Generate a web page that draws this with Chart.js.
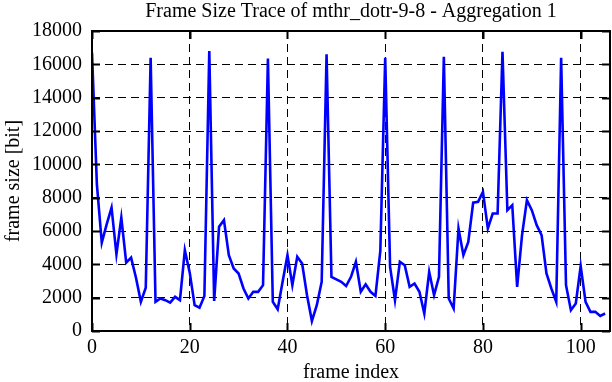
<!DOCTYPE html>
<html>
<head>
<meta charset="utf-8">
<title>Frame Size Trace</title>
<script src="https://cdn.jsdelivr.net/npm/chart.js@4.4.1/dist/chart.umd.min.js"></script>
<style>
  html, body { margin: 0; padding: 0; background: #fff; }
  #wrap { width: 612px; height: 382px; }
</style>
</head>
<body>
<div id="wrap"><canvas id="traceChart"></canvas></div>
<script>
// frame sizes in bit, one per frame index (0..105)
var frameSize = [
  16700, 8800, 5300, 6400, 7400, 4600, 6800, 4100, 4400, 3200,
  1750, 2600, 16400, 1750, 1950, 1850, 1700, 2050, 1850, 4850,
  3500, 1550, 1400, 2100, 16800, 1800, 6250, 6650, 4550, 3750,
  3450, 2550, 1950, 2350, 2350, 2750, 16350, 1750, 1300, 2950,
  4550, 2750, 4450, 4050, 2150, 600, 1550, 2950, 16600, 3250,
  3100, 2950, 2700, 3250, 4150, 2350, 2800, 2350, 2100, 4800,
  16400, 3850, 1850, 4150, 3950, 2650, 2850, 2350, 1050, 3550,
  2150, 3250, 16450, 1950, 1350, 6150, 4550, 5350, 7700, 7750,
  8350, 6150, 7050, 7050, 16750, 7250, 7550, 2650, 5750, 7850,
  7250, 6350, 5750, 3450, 2550, 1750, 16400, 2750, 1250, 1650,
  3900, 1750, 1150, 1150, 900, 1050
];
var xTicks = [0, 20, 40, 60, 80, 100];
var yTicks = [0, 2000, 4000, 6000, 8000, 10000, 12000, 14000, 16000, 18000];
var xMax = 106;
var yMax = 18000;

var fontFamily = '"Liberation Serif", "Times New Roman", Times, serif';

var points = frameSize.map(function (v, i) { return { x: i, y: v }; });

// gnuplot style frame with inward tick marks on all four sides
var framePlugin = {
    id: 'frame',
    afterDatasetsDraw: function (chart) {
        var a = chart.chartArea, c = chart.ctx;
        var xs = chart.scales.x, ys = chart.scales.y;
        c.save();
        c.strokeStyle = '#000';
        c.lineWidth = 2;
        c.beginPath();
        xTicks.forEach(function (v) {
            var p = Math.round(xs.getPixelForValue(v)) + 0.5;
            c.moveTo(p, a.bottom); c.lineTo(p, a.bottom - 8);
            c.moveTo(p, a.top); c.lineTo(p, a.top + 8);
        });
        yTicks.forEach(function (v) {
            var p = Math.round(ys.getPixelForValue(v)) + 0.5;
            c.moveTo(a.left, p); c.lineTo(a.left + 8, p);
            c.moveTo(a.right, p); c.lineTo(a.right - 8, p);
        });
        c.stroke();
        c.strokeRect(a.left, a.top, a.right - a.left, a.bottom - a.top);
        c.restore();
    }
};

function gridColor(max) {
    return function (ctx) {
        var v = ctx.tick && ctx.tick.value;
        return (v === 0 || v === max) ? 'rgba(0,0,0,0)' : '#000';
    };
}

function plainLabel(value) { return String(value); }

var ctx = document.getElementById('traceChart').getContext('2d');
new Chart(ctx, {
    type: 'line',
    data: {
        datasets: [{
            label: 'frame size',
            data: points,
            borderColor: '#0000ff',
            borderWidth: 2.6,
            pointRadius: 0,
            tension: 0,
            fill: false
        }]
    },
    options: {
        responsive: true,
        maintainAspectRatio: false,
        animation: false,
        layout: { padding: { left: 0, right: 2, top: 0, bottom: 0 } },
        plugins: {
            legend: { display: false },
            tooltip: { enabled: false },
            title: {
                display: true,
                text: 'Frame Size Trace of mthr_dotr-9-8 - Aggregation 1',
                color: '#000',
                fullSize: false,
                font: { family: fontFamily, size: 20, weight: 'normal' },
                padding: { top: 0, bottom: 7 }
            }
        },
        scales: {
            x: {
                type: 'linear',
                min: 0,
                max: xMax,
                afterBuildTicks: function (s) { s.ticks = xTicks.map(function (v) { return { value: v }; }); },
                afterFit: function (s) { s.height = 51; },
                ticks: {
                    color: '#000',
                    padding: 5,
                    maxRotation: 0,
                    callback: plainLabel,
                    font: { family: fontFamily, size: 20 }
                },
                grid: { color: gridColor(-1), lineWidth: 1, drawTicks: false },
                border: { display: false, dash: [8, 5] },
                title: {
                    display: true,
                    text: 'frame index',
                    color: '#000',
                    font: { family: fontFamily, size: 20 },
                    padding: { top: 0, bottom: -3 }
                }
            },
            y: {
                min: 0,
                max: yMax,
                afterBuildTicks: function (s) { s.ticks = yTicks.map(function (v) { return { value: v }; }); },
                afterFit: function (s) { s.width = 92; },
                ticks: {
                    color: '#000',
                    padding: 10,
                    callback: plainLabel,
                    font: { family: fontFamily, size: 20 }
                },
                grid: { color: gridColor(yMax), lineWidth: 1, drawTicks: false },
                border: { display: false, dash: [8, 5] },
                title: {
                    display: true,
                    text: 'frame size [bit]',
                    color: '#000',
                    font: { family: fontFamily, size: 20 },
                    padding: { top: 2, bottom: 0 }
                }
            }
        }
    },
    plugins: [framePlugin]
});
</script>
</body>
</html>
